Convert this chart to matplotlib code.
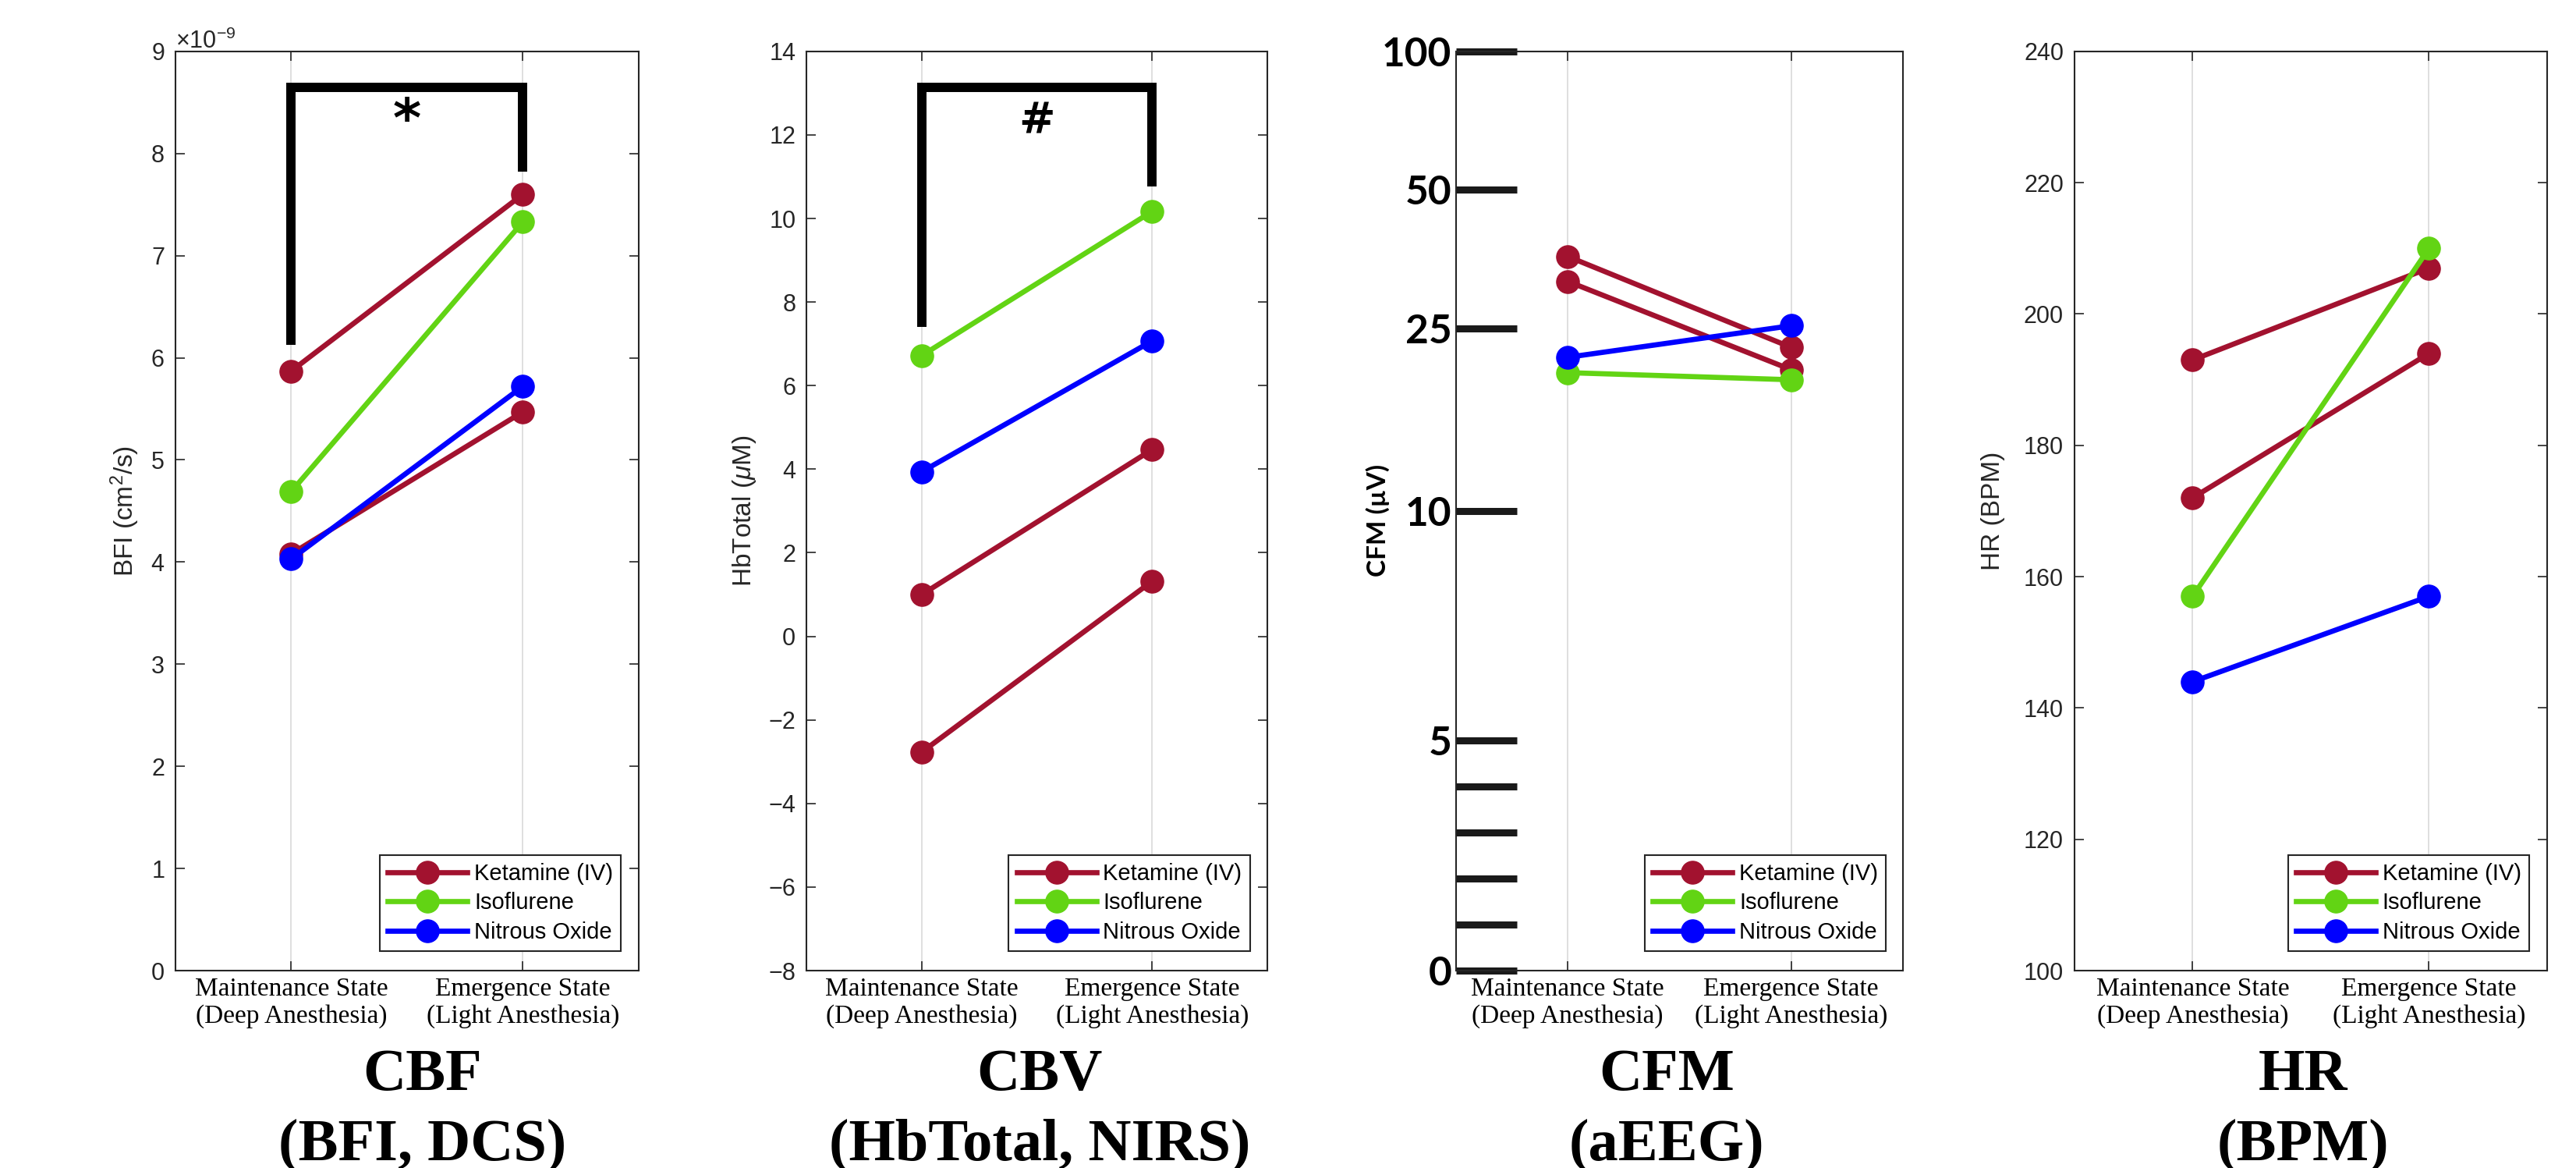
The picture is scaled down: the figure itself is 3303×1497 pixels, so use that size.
import numpy as np
import matplotlib
matplotlib.use("Agg")
import matplotlib.pyplot as plt
from matplotlib.ticker import ScalarFormatter

# data
categories = ['Maintenance State\n(Deep Anesthesia)', 'Emergence State\n(Light Anesthesia)']
drugs = ['Ketamine (IV)', 'Isoflurene', 'Nitrous Oxide']
states = [1, 2]

bfi_ketamine = [[5.87e-9, 7.60e-9], [4.08e-9, 5.47e-9]]
bfi_isoflurene = [4.69e-9, 7.33e-9]
bfi_nitrous = [4.03e-9, 5.72e-9]
bfi_bracket = [6.13e-9, 8.65e-9, 7.82e-9]

hbt_ketamine = [[1.0, 4.47], [-2.77, 1.32]]
hbt_isoflurene = [6.72, 10.17]
hbt_nitrous = [3.94, 7.07]
hbt_bracket = [7.40, 13.14, 10.77]

cfm_ketamine = [[35.8, 22.7], [31.6, 20.3]]
cfm_isoflurene = [20.0, 19.3]
cfm_nitrous = [21.6, 25.3]
cfm_ticks = [0, 1, 2, 3, 4, 5, 10, 25, 50, 100]
cfm_ticklabels = ['0', '', '', '', '', '5', '10', '25', '50', '100']

hr_ketamine = [[193, 207], [172, 194]]
hr_isoflurene = [157, 210]
hr_nitrous = [144, 157]

red = '#A2122F'
green = '#62D414'
blue = '#0000FF'
dark = '#262626'

SANS = 'Liberation Sans'
SERIF = 'Liberation Serif'

plt.rcParams['font.family'] = SANS
plt.rcParams['mathtext.fontset'] = 'custom'
plt.rcParams['mathtext.rm'] = SANS
plt.rcParams['mathtext.it'] = SANS + ':italic'

fig = plt.figure(figsize=(33.03, 14.97), dpi=100)

bottom = 0.169
height = 0.787
lefts = [0.0681, 0.3131, 0.5652, 0.8053]
widths = [0.1798, 0.1789, 0.1735, 0.1835]
axes = [fig.add_axes([l, bottom, w, height]) for l, w in zip(lefts, widths)]

ms = 21
lw = 4.8


def draw_series(ax, ket, iso, nit):
    for i, k in enumerate(ket):
        ax.plot(states, k, '-o', color=red, lw=lw, ms=ms,
                label=drugs[0] if i == 0 else None, zorder=3)
    ax.plot(states, iso, '-o', color=green, lw=lw, ms=ms, label=drugs[1], zorder=3)
    ax.plot(states, nit, '-o', color=blue, lw=lw, ms=ms, label=drugs[2], zorder=3)


def style_axes(ax, right_ticks=True):
    ax.set_xlim(0.5, 2.5)
    ax.set_xticks(states)
    ax.set_xticklabels(categories, family=SERIF, fontsize=24, linespacing=1.2)
    ax.grid(axis='x', color='#dcdcdc', lw=1.3, zorder=0)
    for s in ax.spines.values():
        s.set_color(dark)
        s.set_linewidth(1.5)
    ax.tick_params(axis='x', direction='in', top=True, length=8.5, width=1.2,
                   color=dark, pad=6)
    ax.tick_params(axis='y', direction='in', right=right_ticks, length=8.5, width=1.2,
                   color=dark, labelcolor=dark, labelsize=22, pad=10)
    leg = ax.legend(loc='lower right', bbox_to_anchor=(0.962, 0.021), borderaxespad=0,
                    fontsize=21, handlelength=3.5, handletextpad=0.3, borderpad=0.35,
                    labelspacing=0.33, fancybox=False, framealpha=1)
    leg.get_frame().set_edgecolor(dark)
    leg.get_frame().set_linewidth(1.5)
    for t in leg.get_texts():
        t.set_color('black')


def bracket(ax, ys, mark, y_mark, size):
    ax.plot([1, 1, 2, 2], [ys[0], ys[1], ys[1], ys[2]], color='black', lw=8.6,
            solid_joinstyle='miter', solid_capstyle='butt', zorder=4)
    ax.text(1.5, y_mark, mark, ha='center', va='baseline', fontsize=size,
            fontweight='bold', family='DejaVu Sans', zorder=5)


# CBF
ax = axes[0]
draw_series(ax, bfi_ketamine, bfi_isoflurene, bfi_nitrous)
ax.set_ylim(0, 9e-9)
ax.set_yticks(np.arange(0, 10) * 1e-9)
fmt = ScalarFormatter(useMathText=True)
ax.yaxis.set_major_formatter(fmt)
ax.yaxis.get_offset_text().set_fontsize(22)
ax.yaxis.get_offset_text().set_color(dark)
bracket(ax, bfi_bracket, '*', 8.17e-9, 50)
ax.set_ylabel('BFI (cm$^2$/s)', fontsize=24, color=dark, va='center')
ax.yaxis.set_label_coords(-0.109, 0.5)
style_axes(ax)

# CBV
ax = axes[1]
draw_series(ax, hbt_ketamine, hbt_isoflurene, hbt_nitrous)
ax.set_ylim(-8, 14)
ax.set_yticks(np.arange(-8, 15, 2))
bracket(ax, hbt_bracket, '#', 12.05, 40)
ax.set_ylabel('HbTotal ($\\mu$M)', fontsize=24, color=dark, va='center')
ax.yaxis.set_label_coords(-0.134, 0.5)
style_axes(ax)


# CFM: aEEG style axis, linear 0-10 then log 10-100
def fwd(y):
    y = np.asarray(y, dtype=float)
    return np.where(y <= 10, y / 10, 1 + np.log10(np.maximum(y, 1e-9) / 10))


def inv(t):
    t = np.asarray(t, dtype=float)
    return np.where(t <= 1, t * 10, 10 * 10 ** (t - 1))


ax = axes[2]
draw_series(ax, cfm_ketamine, cfm_isoflurene, cfm_nitrous)
ax.set_yscale('function', functions=(fwd, inv))
ax.set_ylim(0, 100)
ax.set_yticks(cfm_ticks)
ax.set_yticklabels(cfm_ticklabels)
ax.yaxis.set_minor_locator(matplotlib.ticker.NullLocator())
ax.set_ylabel('CFM (µV)', fontsize=24, fontweight='bold', family='Lato',
              color='black', va='center')
ax.yaxis.set_label_coords(-0.175, 0.49)
style_axes(ax, right_ticks=False)
ax.tick_params(axis='y', direction='in', left=True, right=False, length=56, width=6.5,
               color='#1a1a1a', labelcolor='black', pad=4)
for t in ax.get_yticklabels():
    t.set_family('Lato')
    t.set_fontweight('bold')
    t.set_fontsize(37)

# HR
ax = axes[3]
draw_series(ax, hr_ketamine, hr_isoflurene, hr_nitrous)
ax.set_ylim(100, 240)
ax.set_yticks(np.arange(100, 241, 20))
ax.set_ylabel('HR (BPM)', fontsize=24, color=dark, va='center')
ax.yaxis.set_label_coords(-0.172, 0.5)
style_axes(ax)

titles = ['CBF\n(BFI, DCS)', 'CBV\n(HbTotal, NIRS)', 'CFM\n(aEEG)', 'HR\n(BPM)']
title_x = [542, 1333, 2137, 2953]
for tx, tt in zip(title_x, titles):
    fig.text(tx / 3303, 0.049, tt, ha='center', va='center', fontsize=55,
             fontweight='bold', family=SERIF, linespacing=1.38)

fig.savefig('out.png', dpi=100)
